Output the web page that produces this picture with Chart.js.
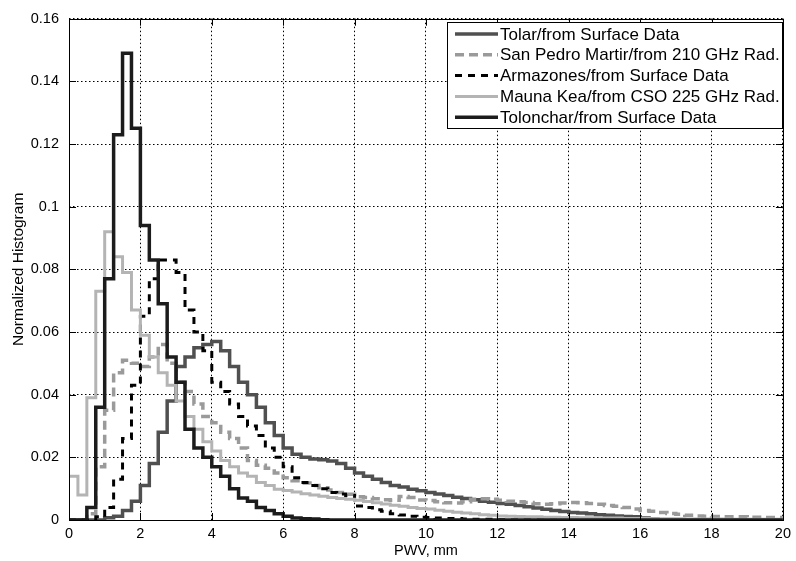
<!DOCTYPE html>
<html>
<head>
<meta charset="utf-8">
<script src="https://cdn.jsdelivr.net/npm/chart.js@4/dist/chart.umd.min.js"></script>
<style>
  html, body { margin: 0; padding: 0; background: #fff; }
  #wrap { width: 796px; height: 561px; }
</style>
</head>
<body>
<div id="wrap"><canvas id="pwvChart" width="796" height="561"></canvas></div>
<script>
// histogram bins are 0.25 mm wide, 0..20 mm
const binWidth = 0.25;
const xTicks = [0, 2, 4, 6, 8, 10, 12, 14, 16, 18, 20];
const yTicks = [0, 0.02, 0.04, 0.06, 0.08, 0.1, 0.12, 0.14, 0.16];

const tolar = [
  0, 0, 0, 0, 0.0007, 0.0012, 0.003, 0.006, 0.011, 0.018,
  0.028, 0.038, 0.049, 0.052, 0.055, 0.056, 0.057, 0.054, 0.049, 0.044,
  0.040, 0.036, 0.031, 0.027, 0.023, 0.021, 0.020, 0.0195, 0.0192, 0.0188,
  0.018, 0.0165, 0.015, 0.014, 0.013, 0.012, 0.011, 0.0105, 0.0098, 0.0093,
  0.0088, 0.0083, 0.0078, 0.0073, 0.0069, 0.0065, 0.006, 0.0057, 0.0053, 0.005,
  0.0046, 0.0042, 0.0038, 0.0034, 0.003, 0.0027, 0.0024, 0.0022, 0.002, 0.0017,
  0.0015, 0.0013, 0.0011, 0.001, 0.0006, 0.0003, 0, 0, 0, 0,
  0, 0, 0, 0, 0, 0, 0, 0, 0, 0
];

const sanPedro = [
  0, 0, 0.002, 0.017, 0.035, 0.047, 0.051, 0.050, 0.049, 0.052,
  0.056, 0.050, 0.044, 0.041, 0.037, 0.033, 0.031, 0.028, 0.026, 0.023,
  0.019, 0.0175, 0.0165, 0.015, 0.0135, 0.0125, 0.0118, 0.011, 0.0103, 0.0096,
  0.0088, 0.0082, 0.0074, 0.0072, 0.0068, 0.0065, 0.0063, 0.0075, 0.0072, 0.0064,
  0.0062, 0.0058, 0.0055, 0.0054, 0.0058, 0.0066, 0.0068, 0.0066, 0.0063, 0.006,
  0.0058, 0.0056, 0.0052, 0.005, 0.0052, 0.0054, 0.0056, 0.0055, 0.0053, 0.005,
  0.0046, 0.0044, 0.004, 0.0035, 0.003, 0.0028, 0.0024, 0.0021, 0.0018, 0.0015,
  0.0013, 0.0012, 0.0011, 0.001, 0.001, 0.001, 0.0009, 0.0009, 0.0008, 0.0008
];

const armazones = [
  0, 0, 0, 0.001, 0.004, 0.013, 0.026, 0.043, 0.065, 0.077,
  0.083, 0.083, 0.079, 0.067, 0.060, 0.054, 0.044, 0.041, 0.037, 0.033,
  0.030, 0.027, 0.023, 0.020, 0.017, 0.0135, 0.012, 0.011, 0.010, 0.0088,
  0.0083, 0.0078, 0.0045, 0.004, 0.0033, 0.0028, 0.002, 0.0016, 0.0012, 0.0009,
  0.0008, 0.0006, 0.0005, 0.0005, 0.0003, 0.0002, 0.0002, 0.0002, 0.0001, 0,
  0, 0, 0, 0, 0, 0, 0, 0, 0, 0,
  0, 0, 0, 0, 0, 0, 0, 0, 0, 0,
  0, 0, 0, 0, 0, 0, 0, 0, 0, 0
];

const maunaKea = [
  0.014, 0.008, 0.039, 0.073, 0.092, 0.084, 0.079, 0.067, 0.059, 0.052,
  0.047, 0.043, 0.038, 0.033, 0.029, 0.025, 0.022, 0.019, 0.017, 0.015,
  0.014, 0.012, 0.011, 0.0098, 0.0094, 0.0089, 0.0084, 0.008, 0.0076, 0.0072,
  0.0069, 0.0066, 0.0063, 0.0059, 0.0055, 0.0051, 0.0047, 0.0044, 0.004, 0.0037,
  0.0035, 0.0031, 0.0028, 0.0025, 0.0022, 0.002, 0.0017, 0.0015, 0.0013, 0.0012,
  0.0011, 0.001, 0.001, 0.0009, 0.0009, 0.0008, 0.0008, 0.0007, 0.0007, 0.0006,
  0.0006, 0.0006, 0.0005, 0.0005, 0.0005, 0.0004, 0.0004, 0.0004, 0.0004, 0.0003,
  0.0003, 0.0003, 0.0003, 0.0003, 0.0002, 0.0002, 0.0002, 0.0002, 0.0002, 0.0002
];

const tolonchar = [
  0, 0, 0.004, 0.036, 0.077, 0.123, 0.149, 0.125, 0.094, 0.083,
  0.069, 0.052, 0.044, 0.029, 0.023, 0.020, 0.017, 0.014, 0.010, 0.007,
  0.006, 0.004, 0.003, 0.002, 0.0012, 0.0006, 0.0004, 0.0003, 0.0001, 0,
  0, 0, 0, 0, 0, 0, 0, 0, 0, 0,
  0, 0, 0, 0, 0, 0, 0, 0, 0, 0,
  0, 0, 0, 0, 0, 0, 0, 0, 0, 0,
  0, 0, 0, 0, 0, 0, 0, 0, 0, 0,
  0, 0, 0, 0, 0, 0, 0, 0, 0, 0
];

// turn a list of bin heights into stair points (left edges + closing edge)
function stairs(values) {
  const pts = values.map((v, i) => ({ x: i * binWidth, y: v }));
  pts.push({ x: values.length * binWidth, y: values[values.length - 1] });
  return pts;
}

const FONT = '"Liberation Sans", Arial, Helvetica, sans-serif';

// MATLAB-ish frame: box round the axes and inward ticks on all four sides
const framePlugin = {
  id: 'frame',
  afterDatasetsDraw(chart) {
    const { ctx, chartArea: a, scales } = chart;
    const len = 7;
    ctx.save();
    ctx.strokeStyle = '#000';
    ctx.lineWidth = 1;
    ctx.setLineDash([]);
    ctx.beginPath();
    xTicks.forEach(t => {
      const px = Math.round(scales.x.getPixelForValue(t)) + 0.5;
      ctx.moveTo(px, a.bottom); ctx.lineTo(px, a.bottom - len);
      ctx.moveTo(px, a.top); ctx.lineTo(px, a.top + len);
    });
    yTicks.forEach(t => {
      const py = Math.round(scales.y.getPixelForValue(t)) + 0.5;
      ctx.moveTo(a.left, py); ctx.lineTo(a.left + len, py);
      ctx.moveTo(a.right, py); ctx.lineTo(a.right - len, py);
    });
    ctx.stroke();
    ctx.strokeRect(Math.round(a.left) + 0.5, Math.round(a.top) + 0.5,
      Math.round(a.right - a.left), Math.round(a.bottom - a.top));
    ctx.restore();
  }
};

// legend box in the upper right corner of the axes
const boxLegend = {
  id: 'boxLegend',
  afterDraw(chart) {
    const { ctx } = chart;
    const x0 = 447, y0 = 22, w = 335, rowH = 20.8;
    const sets = chart.data.datasets;
    const h = rowH * sets.length + 2;
    ctx.save();
    ctx.fillStyle = '#fff';
    ctx.fillRect(x0, y0, w, h);
    ctx.strokeStyle = '#000';
    ctx.lineWidth = 1;
    ctx.setLineDash([]);
    ctx.strokeRect(x0 + 0.5, y0 + 0.5, w, h);
    ctx.font = '17px ' + FONT;
    ctx.textBaseline = 'middle';
    ctx.fillStyle = '#000';
    sets.forEach((ds, i) => {
      const cy = y0 + 12 + i * rowH;
      ctx.strokeStyle = ds.borderColor;
      ctx.lineWidth = ds.borderWidth;
      ctx.setLineDash(ds.borderDash || []);
      ctx.beginPath();
      ctx.moveTo(x0 + 8, cy);
      ctx.lineTo(x0 + 51, cy);
      ctx.stroke();
      ctx.setLineDash([]);
      ctx.fillText(ds.label, x0 + 53, cy + 1);
    });
    ctx.restore();
  }
};

const common = { pointRadius: 0, stepped: 'before', fill: false, borderCapStyle: 'butt', borderJoinStyle: 'miter' };

new Chart(document.getElementById('pwvChart'), {
  type: 'line',
  data: {
    datasets: [
      { ...common, label: 'Tolar/from Surface Data', data: stairs(tolar), borderColor: '#505050', borderWidth: 3.5, order: 5 },
      { ...common, label: 'San Pedro Martir/from 210 GHz Rad.', data: stairs(sanPedro), borderColor: '#9a9a9a', borderWidth: 3.5, borderDash: [9, 5], order: 4 },
      { ...common, label: 'Armazones/from Surface Data', data: stairs(armazones), borderColor: '#000', borderWidth: 3, borderDash: [7, 6], order: 3 },
      { ...common, label: 'Mauna Kea/from CSO 225 GHz Rad.', data: stairs(maunaKea), borderColor: '#b4b4b4', borderWidth: 3, order: 2 },
      { ...common, label: 'Tolonchar/from Surface Data', data: stairs(tolonchar), borderColor: '#1c1c1c', borderWidth: 3.5, order: 1 }
    ]
  },
  options: {
    responsive: false,
    animation: false,
    layout: { padding: { left: 0, top: 16, right: 7, bottom: 0 } },
    plugins: { legend: { display: false }, tooltip: { enabled: false } },
    scales: {
      x: {
        type: 'linear', min: 0, max: 20,
        afterBuildTicks: s => { s.ticks = xTicks.map(v => ({ value: v })); },
        afterFit: s => { s.height = 41; },
        grid: { color: '#000', lineWidth: 1, drawTicks: false },
        border: { display: false, dash: [1.5, 2.5] },
        ticks: { color: '#000', padding: 5, font: { family: FONT, size: 14.5 } },
        title: { display: true, text: 'PWV, mm', color: '#000', padding: { top: 0, bottom: 1 }, font: { family: FONT, size: 14.5 } }
      },
      y: {
        min: 0, max: 0.16,
        afterBuildTicks: s => { s.ticks = yTicks.map(v => ({ value: v })); },
        afterFit: s => { s.width = 69; },
        grid: { color: '#000', lineWidth: 1, drawTicks: false },
        border: { display: false, dash: [1.5, 2.5] },
        ticks: {
          color: '#000', padding: 10, font: { family: FONT, size: 14.5 },
          callback: v => String(Math.round(v * 100) / 100)
        },
        title: { display: true, text: 'Normalized Histogram', color: '#000', padding: { top: 9, bottom: 0 }, font: { family: FONT, size: 15.5 } }
      }
    }
  },
  plugins: [framePlugin, boxLegend]
});
</script>
</body>
</html>
